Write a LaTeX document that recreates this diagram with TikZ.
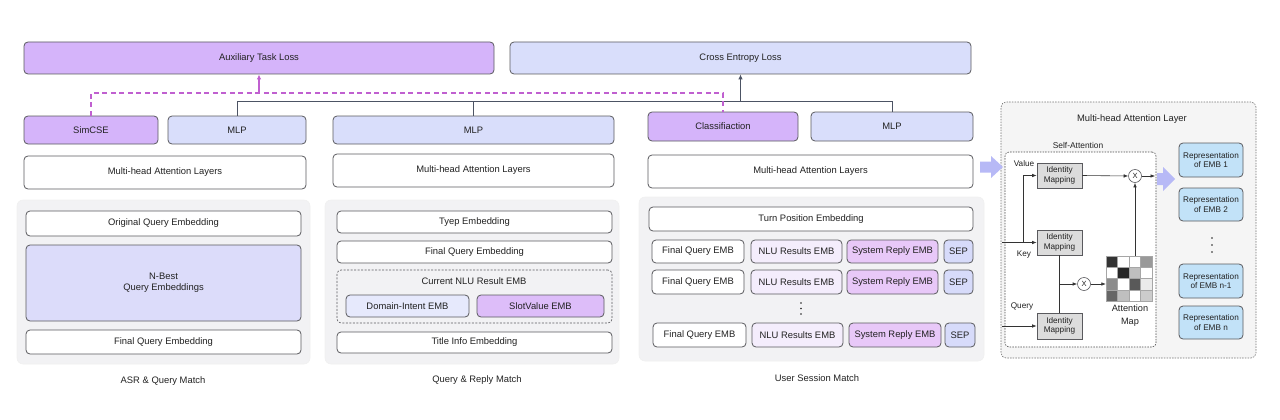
\documentclass[tikz,border=0pt]{standalone}
\usepackage{fontspec}
\setmainfont{Liberation Sans}
\usetikzlibrary{arrows.meta}
\definecolor{bd}{HTML}{5A5A5E}
\definecolor{purp}{HTML}{D5B4FA}
\definecolor{blu}{HTML}{D9DEFB}
\definecolor{nbest}{HTML}{DCDCFA}
\definecolor{domc}{HTML}{E6E9FC}
\definecolor{slotc}{HTML}{DDBDF9}
\definecolor{nluc}{HTML}{F4EDFC}
\definecolor{sysr}{HTML}{E8C8F8}
\definecolor{sepc}{HTML}{D7DBFA}
\definecolor{panel}{HTML}{F2F2F4}
\definecolor{repc}{HTML}{C2E2F8}
\definecolor{idm}{HTML}{DCDCDC}
\definecolor{dashp}{HTML}{C060D0}
\definecolor{slate}{HTML}{4C5364}
\definecolor{fat}{HTML}{B7B9F6}
\definecolor{txt}{HTML}{222222}
\newcommand\mybox[7]{\node[#6,minimum width={#4-#2},minimum height={#5-#3}] (#1) at ({(#2+#4)/2},{(#3+#5)/2}) {#7};}
\begin{document}
\begin{tikzpicture}[x=1pt,y=-1pt,font=\fontsize{9.4}{11}\selectfont,text=txt,
  bx/.style={draw=bd,line width=0.8pt,rounded corners=4pt,inner sep=0pt,fill=white,align=center},
  pnl/.style={fill=panel,draw=black!6,line width=0.6pt,rounded corners=6pt,inner sep=0pt},
  sm/.style={font=\fontsize{8.2}{9.6}\selectfont},
  idb/.style={draw=bd,line width=0.7pt,fill=idm,inner sep=0pt,align=center,sm},
  ar/.style={-{Latex[length=4.5pt,width=3.5pt]},line width=0.6pt,draw=black!80},
  xc/.style={circle,draw=bd,line width=0.6pt,fill=white,minimum size=13pt,inner sep=0pt,font=\fontsize{7.5}{8}\selectfont},
  repb/.style={bx,fill=repc,sm},
  pdash/.style={draw=dashp,line width=1.1pt,dash pattern=on 5pt off 3.5pt}]
\useasboundingbox (0,0) rectangle (1280,420);
% top losses
\mybox{aux}{24}{42}{494}{74}{bx,fill=purp}{Auxiliary Task Loss}
\mybox{ce}{510}{42}{971}{74}{bx,fill=blu}{Cross Entropy Loss}
% heads
\mybox{simcse}{24}{116}{158}{144}{bx,fill=purp}{SimCSE}
\mybox{mlpa}{168}{116}{306}{144}{bx,fill=blu}{MLP}
\mybox{mlpb}{333}{116}{614}{144}{bx,fill=blu}{MLP}
\mybox{cls}{648}{112}{798}{141}{bx,fill=purp}{Classifiaction}
\mybox{mlpc}{811}{112}{973}{141}{bx,fill=blu}{MLP}
\mybox{mhaa}{24}{156}{306}{189}{bx}{Multi-head Attention Layers}
\mybox{mhab}{333}{154}{614}{187}{bx}{Multi-head Attention Layers}
\mybox{mhac}{648}{155}{973}{188}{bx}{Multi-head Attention Layers}
% connectors to losses
\coordinate (dL) at (91,93);
\coordinate (gL) at (237,101);
\draw[slate,line width=0.9pt] (mlpa.north) -- (gL) -| (mlpc.north);
\draw[slate,line width=0.9pt] (mlpb.north) -- (mlpb.north |- gL);
\draw[slate,line width=0.9pt,-{Latex[length=5pt,width=4.5pt]}] (ce.south |- gL) -- (ce.south);
\draw[pdash] (simcse.north) -- (dL) -| (cls.north);
\draw[draw=dashp,line width=1.1pt,-{Latex[length=5pt,width=4.5pt]}] (aux.south |- dL) -- (aux.south);
% panels
\mybox{pa}{17}{200}{310}{364}{pnl}{}
\mybox{pb}{325}{200}{619}{364}{pnl}{}
\mybox{pc}{639}{197}{984}{361}{pnl}{}
% panel A
\mybox{oqe}{26}{211}{301}{236}{bx}{Original Query Embedding}
\mybox{nb}{26}{245}{301}{321}{bx,fill=nbest}{N-Best\\Query Embeddings}
\mybox{fqa}{26}{330}{301}{354}{bx}{Final Query Embedding}
\node (la) at (163,381) {ASR \& Query Match};
% panel B
\mybox{tye}{337}{211}{612}{233}{bx}{Tyep Embedding}
\mybox{fqb}{337}{241}{612}{263}{bx}{Final Query Embedding}
\mybox{nlub}{337}{270}{612}{323}{bx,fill=panel,line width=0.6pt,dash pattern=on 2pt off 1.5pt}{}
\node (nlut) at (474,281) {Current NLU Result EMB};
\mybox{dom}{346}{295}{469}{317}{bx,fill=domc}{Domain-Intent EMB}
\mybox{slot}{477}{295}{604}{317}{bx,fill=slotc}{SlotValue EMB}
\mybox{tie}{337}{332}{612}{353}{bx}{Title Info Embedding}
\node (lb) at (477,380) {Query \& Reply Match};
% panel C
\mybox{tpe}{649}{207}{973}{231}{bx}{Turn Position Embedding}
\mybox{fq1}{652}{240}{744}{263}{bx}{Final Query EMB}
\mybox{nl1}{751}{240}{842}{263}{bx,fill=nluc}{NLU Results EMB}
\mybox{sr1}{847}{240}{938}{263}{bx,fill=sysr}{System Reply EMB}
\mybox{sp1}{944}{240}{973}{263}{bx,fill=sepc}{SEP}
\mybox{fq2}{652}{270}{744}{294}{bx}{Final Query EMB}
\mybox{nl2}{751}{270}{842}{294}{bx,fill=nluc}{NLU Results EMB}
\mybox{sr2}{847}{270}{938}{294}{bx,fill=sysr}{System Reply EMB}
\mybox{sp2}{944}{270}{973}{294}{bx,fill=sepc}{SEP}
\mybox{fq3}{653}{323}{746}{347}{bx}{Final Query EMB}
\mybox{nl3}{752}{323}{843}{347}{bx,fill=nluc}{NLU Results EMB}
\mybox{sr3}{849}{323}{941}{347}{bx,fill=sysr}{System Reply EMB}
\mybox{sp3}{945}{323}{975}{347}{bx,fill=sepc}{SEP}
\foreach \yy in {303,308.5,314} \fill[txt] (801,\yy) circle (0.9);
\node (lc) at (817,378) {User Session Match};
% attention panel
\mybox{ap}{1001}{102}{1256}{358}{draw=black!55,line width=0.6pt,dash pattern=on 1.5pt off 1.2pt,fill=black!4,rounded corners=5pt,inner sep=0pt}{}
% fat arrow into attention panel
\fill[fat] (980,161.5) -- (991,161.5) -- (991,156) -- (1003,167) -- (991,178) -- (991,172.5) -- (980,172.5) -- cycle;
\node (apt) at (1132,119) {Multi-head Attention Layer};
\node[font=\fontsize{8.4}{10}\selectfont] (sat) at (1078,145) {Self-Attention};
\mybox{sa}{1005}{152}{1156}{347}{draw=black!70,line width=0.6pt,dash pattern=on 1.5pt off 1.2pt,fill=white,rounded corners=4pt,inner sep=0pt}{}
\mybox{im1}{1037}{163}{1082}{188}{idb}{Identity\\Mapping}
\mybox{im2}{1037}{230}{1082}{255}{idb}{Identity\\Mapping}
\mybox{im3}{1037}{313}{1082}{339}{idb}{Identity\\Mapping}
\node[sm] (lv) at (1024,164) {Value};
\node[sm] (lk) at (1024,255) {Key};
\node[sm] (lq) at (1022,306) {Query};
\node[xc] (x1) at (1135,176) {X};
\node[xc] (x2) at (1084,284) {X};
% attention map
\node[inner sep=0pt,minimum width=46,minimum height=45] (map) at (1129,278.5) {};
\foreach \r/\c/\s in {0/0/80,0/1/0,0/2/0,0/3/40,
                      1/0/0,1/1/85,1/2/25,1/3/0,
                      2/0/45,2/1/0,2/2/65,2/3/8,
                      3/0/60,3/1/25,3/2/0,3/3/20}
  \filldraw[fill=black!\s,draw=black!35,line width=0.4pt] ({1106+\c*11.5},{256+\r*11.25}) rectangle ++(11.5,11.25);
\node[align=center,font=\fontsize{9.2}{12.5}\selectfont] (mapl) at (1130,315.5) {Attention\\Map};
% connectors in self-attention
\coordinate (kin) at (1002,242.5);
\coordinate (qin) at (1002,326);
\coordinate (vb) at (1023,242.5);
\coordinate (jq) at (1059.5,284);
\coordinate (saout) at (1155,176);
\draw[ar] (kin) -- (im2.west);
\draw[ar] (vb) |- (im1.west);
\draw[ar] (qin) -- (im3.west);
\draw[line width=0.6pt,black!80] (im2.south) -- (im3.north);
\draw[ar] (jq) -- (x2.west);
\draw[ar] (x2.east) -- (x2.east -| map.west);
\draw[ar] (x1 |- map.north) -- (x1.south);
\draw[ar] (im1.east) -- (x1.west);
\draw[ar] (x1.east) -- (saout);
% fat arrow to representations
\fill[fat] (1157,173) -- (1163,173) -- (1163,167) -- (1175,179) -- (1163,191) -- (1163,185) -- (1157,185) -- cycle;
% representations
\mybox{r1}{1179}{143}{1243}{177}{repb}{Representation\\of EMB 1}
\mybox{r2}{1179}{188}{1243}{221}{repb}{Representation\\of EMB 2}
\mybox{r3}{1179}{264}{1243}{298}{repb}{Representation\\of EMB n-1}
\mybox{r4}{1179}{306}{1243}{339}{repb}{Representation\\of EMB n}
\foreach \yy in {238,245,252} \fill[txt] (1212,\yy) circle (0.8);
\end{tikzpicture}
\end{document}
